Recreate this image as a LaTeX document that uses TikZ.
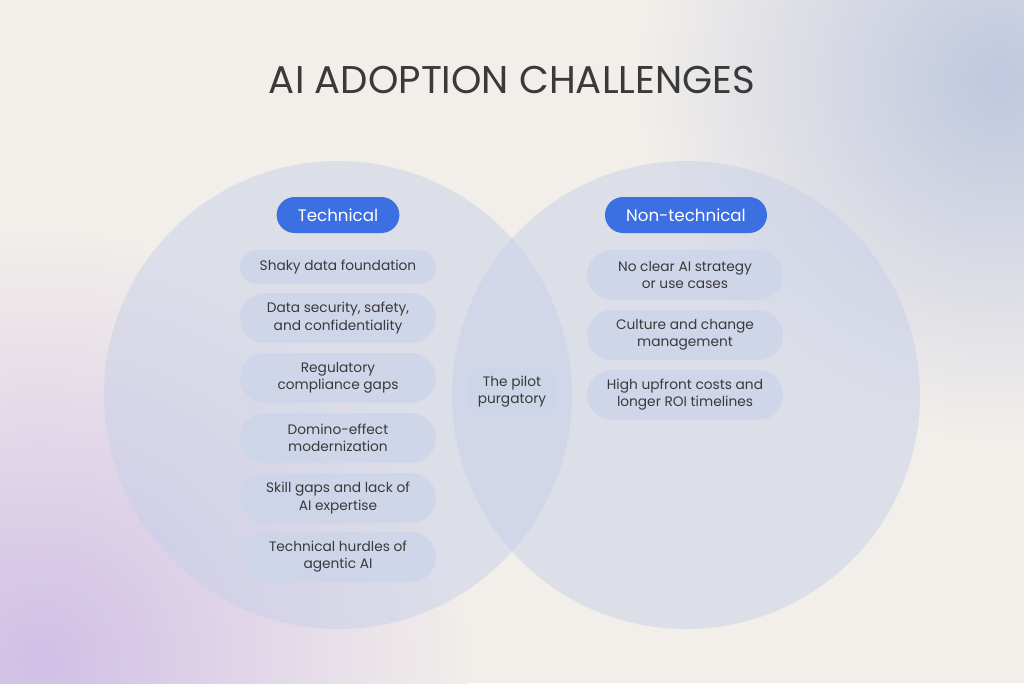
\documentclass[tikz,border=0pt]{standalone}
\usepackage{fontspec}
\setmainfont{Poppins}
\definecolor{bg}{HTML}{F2EEEA}
\definecolor{tr}{HTML}{BFC8DF}
\definecolor{bl}{HTML}{D0BFE6}
\definecolor{circ}{HTML}{C8D0E8}
\definecolor{pillc}{HTML}{CDD5EA}
\definecolor{blue}{HTML}{3B6FE2}
\definecolor{txt}{HTML}{3A3A3A}
\usetikzlibrary{shapes.misc}
\begin{document}
\begin{tikzpicture}[x=0.75pt,y=-0.75pt,
  item/.style={rounded rectangle,fill=pillc,fill opacity=0.8,text opacity=1,text=txt,minimum width=153pt,align=center,font=\fontsize{10.3}{12.8}\selectfont,inner sep=3pt},
  one/.style={item,minimum height=25.5pt},
  two/.style={item,minimum height=37.5pt},
  head/.style={rounded rectangle,fill=blue,text=white,minimum height=27pt,font=\fontsize{12.5}{14}\selectfont,inner xsep=15pt},
  venn/.style={fill=circ,fill opacity=0.5}]
\useasboundingbox (0,0) rectangle (1024,683);
\fill[bg] (0,0) rectangle (1024,683);
\begin{scope}
\clip (0,0) rectangle (1024,683);
\shade[inner color=tr,outer color=bg] (1000,80) circle (360);
\shade[inner color=bl,outer color=bg] (40,660) circle (430);
\end{scope}
\node[text=txt,font=\fontsize{29}{33}\selectfont] (title) at (512,80) {AI ADOPTION CHALLENGES};
\fill[venn] (338,395) circle (234);
\fill[venn] (686,395) circle (234);
\node[head] (tech) at (338,215) {Technical};
\node[head] (nontech) at (686,215) {Non-technical};
\node[one] (l1) at (338,267) {Shaky data foundation};
\node[two] (l2) at (338,318) {Data security, safety,\\and confidentiality};
\node[two] (l3) at (338,378) {Regulatory\\compliance gaps};
\node[two] (l4) at (338,438) {Domino-effect\\modernization};
\node[two] (l5) at (338,498) {Skill gaps and lack of\\AI expertise};
\node[two] (l6) at (338,557) {Technical hurdles of\\agentic AI};
\node[two,minimum width=74pt] (mid) at (512,392) {The pilot\\purgatory};
\node[two] (r1) at (685,275) {No clear AI strategy\\or use cases};
\node[two] (r2) at (685,335) {Culture and change\\management};
\node[two] (r3) at (685,395) {High upfront costs and\\longer ROI timelines};
\end{tikzpicture}
\end{document}
